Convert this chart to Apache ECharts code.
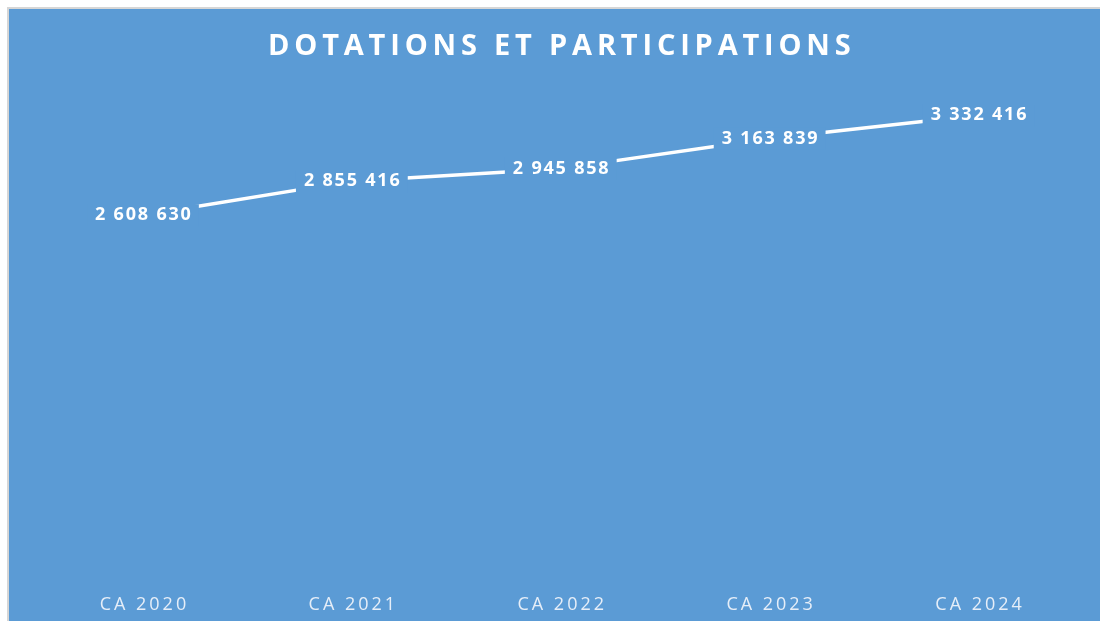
<!DOCTYPE html>
<html>
<head>
<meta charset="utf-8">
<script src="https://cdn.jsdelivr.net/npm/echarts@6/dist/echarts.min.js"></script>
<style>
  html, body { margin: 0; padding: 0; background: #fff; }
  #frame {
    position: absolute; left: 7px; top: 7px;
    border-left: 2px solid #d6d6d6; border-top: 2px solid #d6d6d6;
  }
  #chart { width: 1091px; height: 612px; }
</style>
</head>
<body>
<div id="frame"><div id="chart"></div></div>
<script>
const categories = ['CA 2020', 'CA 2021', 'CA 2022', 'CA 2023', 'CA 2024']
const values = [2608630, 2855416, 2945858, 3163839, 3332416]
const titleText = 'DOTATIONS ET PARTICIPATIONS'

const bg = '#5b9bd5'

// french style thousands: 2 608 630
function fmt(v) {
  return String(v).replace(/\B(?=(\d{3})+(?!\d))/g, ' ')
}
// fake letter spacing
function spaced(s, sep) {
  return s.split('').join(sep)
}

const chart = echarts.init(document.getElementById('chart'))
chart.setOption({
  backgroundColor: bg,
  animation: false,
  title: {
    text: spaced(titleText, '\u2009'),
    left: 259,
    top: 23,
    padding: 0,
    textStyle: {
      color: '#ffffff',
      fontFamily: 'Open Sans',
      fontWeight: 'bold',
      fontSize: 29
    }
  },
  grid: { left: 29.5, right: 17, top: 83, bottom: 45 },
  xAxis: {
    type: 'category',
    data: categories,
    axisLine: { show: false },
    axisTick: { show: false },
    axisLabel: {
      color: '#e6eef8',
      fontFamily: 'Open Sans',
      fontSize: 18,
      margin: 20,
      formatter: (v) => spaced(v, '\u2009')
    }
  },
  yAxis: {
    type: 'value',
    min: 0,
    max: 3500000,
    show: false,
    splitLine: { show: false }
  },
  series: [
    {
      type: 'line',
      data: values,
      symbol: 'circle',
      symbolSize: 2,
      itemStyle: { color: '#ffffff' },
      lineStyle: { color: '#ffffff', width: 3.5 },
      label: {
        show: true,
        position: 'inside',
        color: '#ffffff',
        fontFamily: 'Open Sans',
        fontWeight: 'bold',
        fontSize: 18,
        backgroundColor: bg,
        padding: [2, 8],
        formatter: (p) => spaced(fmt(p.value), '\u200a')
      }
    }
  ]
})
</script>
</body>
</html>
